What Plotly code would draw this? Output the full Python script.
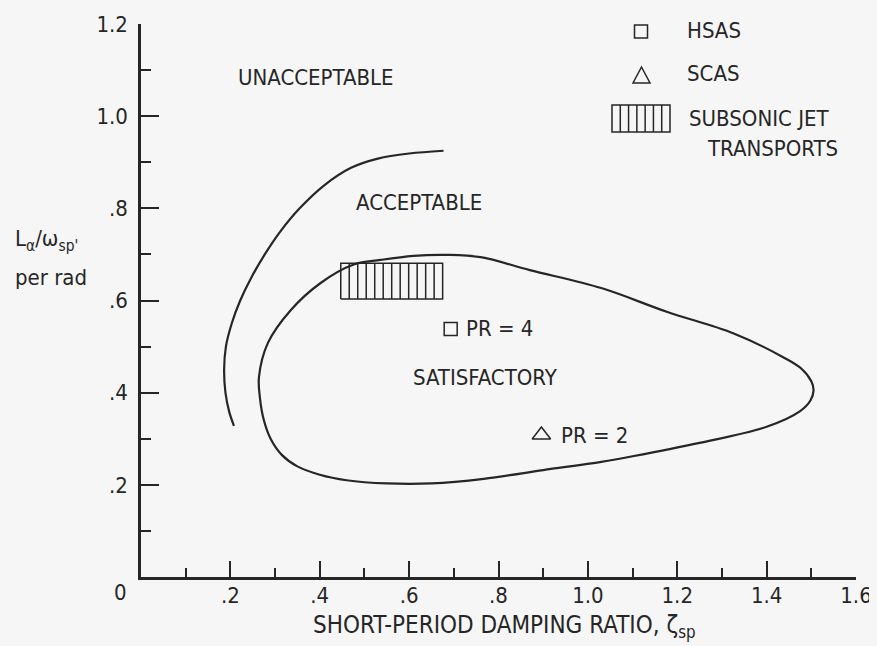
import numpy as np
import plotly.graph_objects as go

# ---------------- data ----------------
# Acceptable / unacceptable boundary (open arc)
ACC_ZETA = [0.208, 0.197, 0.189, 0.186, 0.190, 0.203, 0.222, 0.247, 0.277, 0.312, 0.355, 0.410, 0.470, 0.530, 0.600, 0.677]
ACC_L = [0.328, 0.360, 0.400, 0.450, 0.500, 0.550, 0.600, 0.650, 0.700, 0.750, 0.800, 0.850, 0.888, 0.908, 0.919, 0.925]

# Satisfactory boundary (closed loop)
SAT_ZETA = [0.55, 0.65, 0.767, 0.90, 1.03, 1.10, 1.25, 1.40, 1.475, 1.498, 1.505, 1.500, 1.478, 1.437,
            1.325, 1.178, 1.03, 0.87, 0.76, 0.686, 0.61, 0.536, 0.476, 0.402, 0.335, 0.284, 0.264,
            0.266, 0.275, 0.290, 0.315, 0.350, 0.400, 0.460, 0.55]
SAT_L = [0.203, 0.203, 0.213, 0.232, 0.25, 0.262, 0.291, 0.326, 0.360, 0.383, 0.405, 0.425, 0.452, 0.477,
         0.529, 0.575, 0.627, 0.666, 0.694, 0.699, 0.697, 0.688, 0.678, 0.638, 0.579, 0.508, 0.434,
         0.390, 0.340, 0.300, 0.265, 0.240, 0.222, 0.210, 0.203]

# Points
HSAS_ZETA = [0.693]
HSAS_L = [0.538]
SCAS_ZETA = [0.896]
SCAS_L = [0.308]

# Subsonic jet transports region
SJT_ZETA = [0.447, 0.675]
SJT_L = [0.603, 0.681]
SJT_HATCH_INTERVALS = 12

X_TICKS = [0.2, 0.4, 0.6, 0.8, 1.0, 1.2, 1.4, 1.6]
X_TICKTEXT = [".2", ".4", ".6", ".8", "1.0", "1.2", "1.4", "1.6"]
Y_TICKS = [0.2, 0.4, 0.6, 0.8, 1.0, 1.2]
Y_TICKTEXT = [".2", ".4", ".6", ".8", "1.0", "1.2"]

# ---------------- style ----------------
INK = "#262626"
BG = "#f6f6f6"
FAMILY = "Liberation Sans Narrow, Arial Narrow, DejaVu Sans Condensed, Liberation Sans, sans-serif"
FONT = dict(family=FAMILY, size=22, color=INK)
TITLE_FONT = dict(family=FAMILY, size=24, color=INK)

W, H = 877, 646
OFF = 8  # page body margin
ML, MR, MT, MB = 133, 29, 16, 77
PW, PH = W - ML - MR, H - MT - MB


def px(x):
    """page pixel x -> paper fraction"""
    return (x - OFF - ML) / PW


def py(y):
    """page pixel y -> paper fraction"""
    return (H - MB - (y - OFF)) / PH


fig = go.Figure()

fig.add_trace(go.Scatter(x=ACC_ZETA, y=ACC_L, mode="lines",
                         line=dict(color=INK, width=2.2, shape="spline", smoothing=1.0),
                         hoverinfo="skip", showlegend=False))
fig.add_trace(go.Scatter(x=SAT_ZETA, y=SAT_L, mode="lines",
                         line=dict(color=INK, width=2.2, shape="spline", smoothing=1.0),
                         hoverinfo="skip", showlegend=False))

# hatched box: outline + vertical lines
x0, x1 = SJT_ZETA
y0, y1 = SJT_L
hx, hy = [x0, x1, x1, x0, x0, None], [y0, y0, y1, y1, y0, None]
for xv in np.linspace(x0, x1, SJT_HATCH_INTERVALS + 1)[1:-1]:
    hx += [xv, xv, None]
    hy += [y0, y1, None]
fig.add_trace(go.Scatter(x=hx, y=hy, mode="lines", line=dict(color=INK, width=1.5),
                         hoverinfo="skip", showlegend=False))

fig.add_trace(go.Scatter(x=HSAS_ZETA, y=HSAS_L, mode="markers",
                         marker=dict(symbol="square-open", size=13, color=INK, line=dict(width=1.5, color=INK)),
                         showlegend=False))
fig.add_trace(go.Scatter(x=SCAS_ZETA, y=SCAS_L, mode="markers",
                         marker=dict(symbol="triangle-up-open", size=16, color=INK, line=dict(width=1.5, color=INK)),
                         showlegend=False))

ann = []


def text(t, x, y, xref="x", yref="y", xanchor="left", yanchor="middle", align="left", font=FONT):
    ann.append(dict(text=t, x=x, y=y, xref=xref, yref=yref, xanchor=xanchor, yanchor=yanchor,
                    showarrow=False, font=font, align=align))


# region labels
text("UNACCEPTABLE", 0.212, 1.085)
text("ACCEPTABLE", 0.621, 0.812, xanchor="center")
text("SATISFACTORY", 0.771, 0.434, xanchor="center")
text("PR = 4", 0.722, 0.540)
text("PR = 2", 0.936, 0.308)

# origin label
text("0", px(129), py(592), xref="paper", yref="paper", xanchor="right")

# axis titles
text("SHORT-PERIOD DAMPING RATIO, ζ<sub>sp</sub>", px(505), py(609), xref="paper", yref="paper",
     xanchor="center", yanchor="top", font=TITLE_FONT)
text("L<sub>α</sub>/ω<sub>sp'</sub>", px(13), py(240), xref="paper", yref="paper")
text("per rad", px(13), py(277), xref="paper", yref="paper")

# legend text
text("HSAS", px(685), py(30), xref="paper", yref="paper")
text("SCAS", px(685), py(74), xref="paper", yref="paper")
text("SUBSONIC JET", px(687), py(118), xref="paper", yref="paper")
text("TRANSPORTS", px(840), py(149), xref="paper", yref="paper", xanchor="right")

# legend symbols
shapes = []
shapes.append(dict(type="rect", xref="paper", yref="paper", x0=px(634.5), x1=px(647.5),
                   y0=py(38), y1=py(25), line=dict(color=INK, width=1.5)))
shapes.append(dict(type="path", xref="paper", yref="paper",
                   path=f"M {px(633)} {py(83)} L {px(650)} {py(83)} L {px(641.5)} {py(67)} Z",
                   line=dict(color=INK, width=1.5)))
sx0, sx1, sy0, sy1 = px(612), px(670), py(132), py(105)
shapes.append(dict(type="rect", xref="paper", yref="paper", x0=sx0, x1=sx1, y0=sy0, y1=sy1,
                   line=dict(color=INK, width=1.5)))
for xv in np.linspace(sx0, sx1, 8)[1:-1]:
    shapes.append(dict(type="line", xref="paper", yref="paper", x0=xv, x1=xv, y0=sy0, y1=sy1,
                       line=dict(color=INK, width=1.5)))

fig.update_layout(
    width=W, height=H,
    margin=dict(l=ML, r=MR, t=MT, b=MB, autoexpand=False),
    paper_bgcolor=BG, plot_bgcolor=BG,
    font=FONT,
    annotations=ann, shapes=shapes,
    showlegend=False,
)
fig.update_xaxes(range=[0, 1.6], tickmode="array", tickvals=X_TICKS, ticktext=X_TICKTEXT,
                 automargin=False,
                 showgrid=False, zeroline=False, showline=True, linecolor=INK, linewidth=2.5,
                 ticks="inside", ticklen=16, tickwidth=2, tickcolor=INK, ticklabelstandoff=-3,
                 minor=dict(ticks="inside", ticklen=9, tickwidth=1.5, tickcolor=INK,
                            tickmode="linear", tick0=0, dtick=0.1, showgrid=False),
                 tickfont=FONT)
fig.update_yaxes(range=[0, 1.2], tickmode="array", tickvals=Y_TICKS, ticktext=Y_TICKTEXT,
                 automargin=False,
                 showgrid=False, zeroline=False, showline=True, linecolor=INK, linewidth=2.5,
                 ticks="inside", ticklen=18, tickwidth=2, tickcolor=INK, ticklabelstandoff=6,
                 minor=dict(ticks="inside", ticklen=10, tickwidth=1.5, tickcolor=INK,
                            tickmode="linear", tick0=0, dtick=0.1, showgrid=False),
                 tickfont=FONT)

fig.write_html("out.html", post_script=f"document.body.style.background='{BG}';")
